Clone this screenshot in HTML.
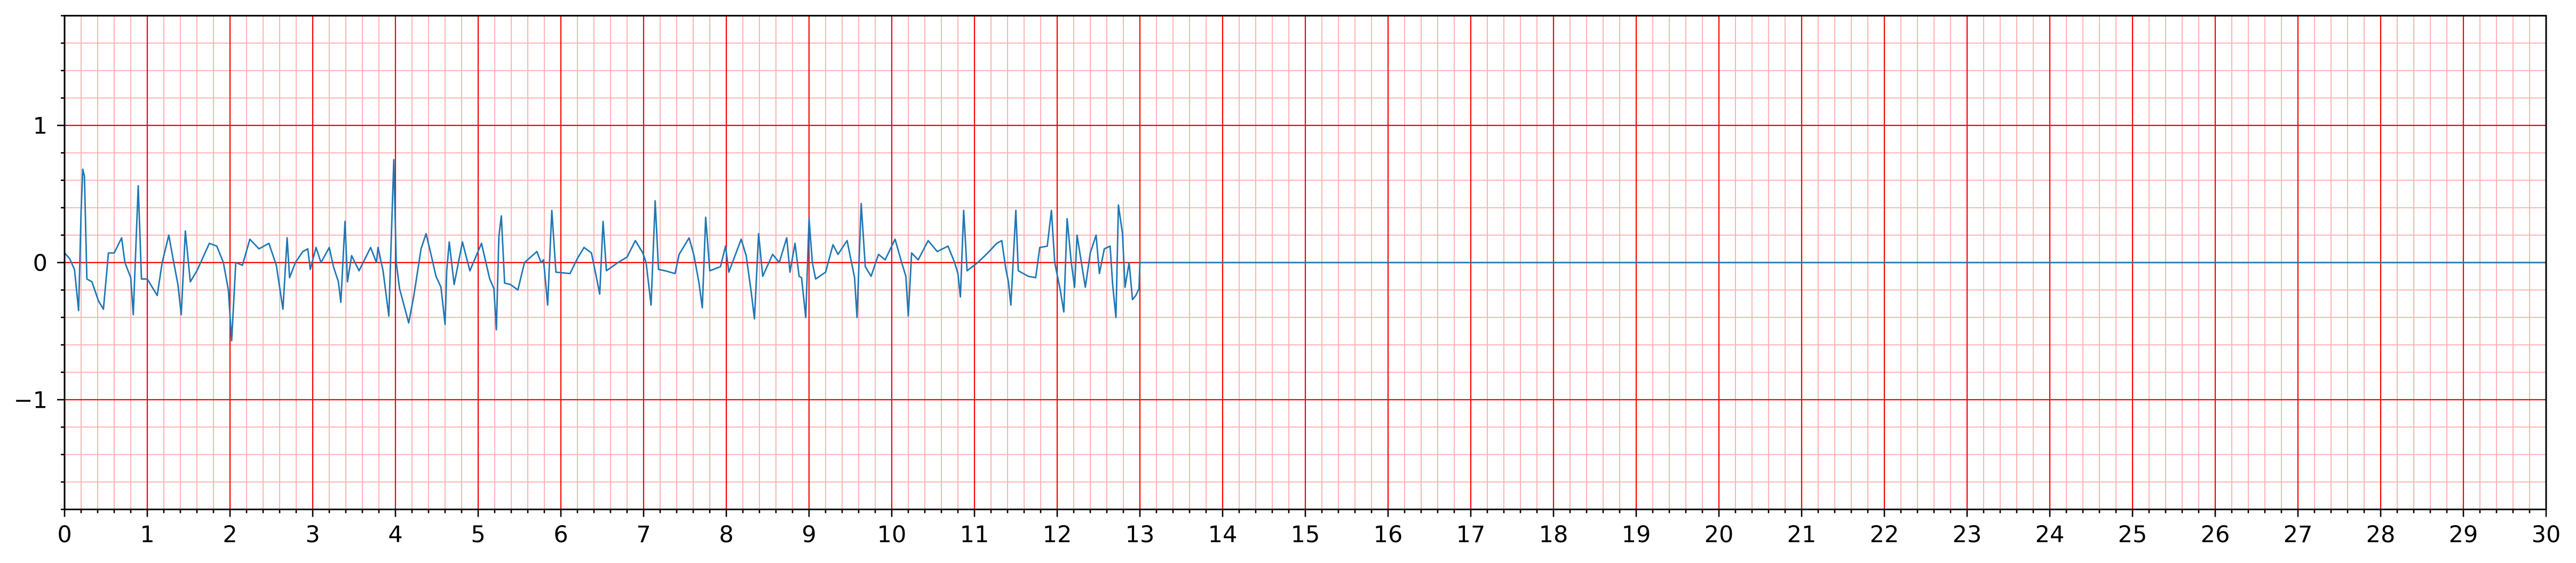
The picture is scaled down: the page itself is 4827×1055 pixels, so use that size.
<!DOCTYPE html>
<html><head><meta charset="utf-8"><style>
html,body{margin:0;padding:0;background:#fff}
svg{display:block}
text{font-family:"DejaVu Sans","Liberation Sans",sans-serif;font-size:43px;fill:#000}
</style></head><body>
<svg id="chart" width="4827" height="1055" viewBox="0 0 4827 1055" xmlns="http://www.w3.org/2000/svg">
<g id="grid"></g>
<g id="series"></g>
<g id="axes"></g>
</svg>
<script>
const times = [0.0,0.06,0.12,0.17,0.2,0.22,0.24,0.27,0.33,0.41,0.47,0.53,0.6,0.69,0.73,0.8,0.83,0.89,0.93,1.0,1.12,1.18,1.26,1.32,1.37,1.41,1.46,1.52,1.6,1.75,1.84,1.92,1.98,2.02,2.07,2.15,2.24,2.35,2.47,2.56,2.64,2.69,2.72,2.79,2.88,2.94,2.97,3.04,3.1,3.2,3.25,3.31,3.34,3.39,3.42,3.47,3.56,3.7,3.77,3.79,3.85,3.92,3.98,4.01,4.05,4.16,4.22,4.31,4.37,4.43,4.49,4.55,4.6,4.62,4.65,4.71,4.81,4.9,5.04,5.14,5.19,5.22,5.25,5.28,5.32,5.39,5.48,5.56,5.71,5.76,5.79,5.84,5.89,5.94,6.11,6.2,6.28,6.37,6.43,6.47,6.51,6.55,6.69,6.8,6.9,6.99,7.03,7.09,7.14,7.18,7.26,7.38,7.43,7.55,7.61,7.67,7.71,7.75,7.8,7.93,7.99,8.03,8.18,8.24,8.3,8.34,8.39,8.44,8.56,8.64,8.73,8.77,8.83,8.88,8.91,8.96,9.0,9.04,9.08,9.2,9.29,9.35,9.46,9.55,9.58,9.63,9.68,9.75,9.84,9.92,10.04,10.12,10.17,10.2,10.24,10.32,10.44,10.55,10.68,10.76,10.8,10.83,10.87,10.91,11.04,11.16,11.27,11.33,11.38,11.41,11.44,11.5,11.53,11.65,11.74,11.79,11.88,11.93,11.97,12.04,12.08,12.12,12.17,12.21,12.24,12.34,12.4,12.47,12.51,12.57,12.64,12.67,12.71,12.74,12.79,12.82,12.87,12.91,12.95,12.99,13.0,30.0];
const values = [0.07,0.03,-0.05,-0.35,0.38,0.68,0.63,-0.12,-0.14,-0.28,-0.34,0.07,0.07,0.18,0.0,-0.11,-0.38,0.56,-0.12,-0.12,-0.24,0.0,0.2,0.0,-0.16,-0.38,0.23,-0.14,-0.06,0.14,0.12,0.0,-0.2,-0.57,0.0,-0.02,0.17,0.1,0.14,-0.02,-0.34,0.18,-0.11,0.0,0.08,0.1,-0.05,0.11,0.0,0.11,-0.03,-0.14,-0.29,0.3,-0.14,0.05,-0.06,0.11,0.0,0.11,-0.06,-0.39,0.75,0.0,-0.19,-0.44,-0.25,0.1,0.21,0.06,-0.1,-0.18,-0.45,-0.06,0.15,-0.16,0.15,-0.06,0.14,-0.12,-0.19,-0.49,0.19,0.34,-0.15,-0.16,-0.2,0.0,0.08,0.0,0.02,-0.31,0.38,-0.07,-0.08,0.03,0.11,0.07,-0.11,-0.23,0.3,-0.06,0.0,0.04,0.16,0.07,0.0,-0.31,0.45,-0.05,-0.06,-0.08,0.06,0.18,0.05,-0.15,-0.33,0.33,-0.06,-0.03,0.12,-0.07,0.17,0.05,-0.21,-0.41,0.21,-0.1,0.06,0.0,0.18,-0.07,0.14,-0.1,-0.11,-0.4,0.32,0.0,-0.12,-0.07,0.13,0.06,0.16,-0.11,-0.4,0.43,-0.03,-0.1,0.06,0.02,0.17,0.0,-0.1,-0.39,0.07,0.02,0.16,0.08,0.12,0.0,-0.08,-0.25,0.38,-0.06,0.0,0.07,0.14,0.16,-0.05,-0.14,-0.31,0.38,-0.06,-0.1,-0.11,0.11,0.12,0.38,0.0,-0.21,-0.36,0.32,0.0,-0.18,0.2,-0.18,0.07,0.2,-0.08,0.1,0.12,-0.16,-0.4,0.42,0.21,-0.18,0.0,-0.27,-0.24,-0.19,0.0,0.0];
const xTickLabels = ["0","1","2","3","4","5","6","7","8","9","10","11","12","13","14","15","16","17","18","19","20","21","22","23","24","25","26","27","28","29","30"];
const yTickValues = [-1,0,1];
const yTickLabels = ["\u22121","0","1"];

const NS="http://www.w3.org/2000/svg";
const L=121,R=4771,T=29.4,B=954.6,XMIN=0,XMAX=30,YMIN=-1.8,YMAX=1.8;
function xs(t){return L+(t-XMIN)/(XMAX-XMIN)*(R-L);}
function ys(v){return B-(v-YMIN)/(YMAX-YMIN)*(B-T);}
function mk(tag,attrs,parent){const e=document.createElementNS(NS,tag);for(const k in attrs)e.setAttribute(k,attrs[k]);parent.appendChild(e);return e;}
const grid=document.getElementById('grid'),series=document.getElementById('series'),axes=document.getElementById('axes');

for(let i=0;i<=150;i++){const t=i*0.2;if(i%5===0)continue;
  const l=mk('line',{x1:xs(t),x2:xs(t),y1:T,y2:B,stroke:'#ffb3b3','stroke-width':2},grid);
  
  }
for(let i=-9;i<=9;i++){if(i%5===0)continue;const v=i*0.2;
  const l=mk('line',{x1:L,x2:R,y1:ys(v),y2:ys(v),stroke:'#ffb3b3','stroke-width':2},grid);
  
  }
xTickLabels.forEach((lab,i)=>{const x=xs(+lab);
  const l=mk('line',{x1:x,x2:x,y1:T,y2:B,stroke:'#ff0000','stroke-width':2.2},grid);
  
  });
yTickValues.forEach(v=>{const l=mk('line',{x1:L,x2:R,y1:ys(v),y2:ys(v),stroke:'#ff0000','stroke-width':2.2},grid);
  
  });

let d='';for(let i=0;i<times.length;i++){d+=(i?'L':'M')+xs(times[i]).toFixed(1)+','+ys(values[i]).toFixed(1);}
const p=mk('path',{d:d,fill:'none',stroke:'#1f77b4','stroke-width':2.8,'stroke-linejoin':'round'},series);



for(let i=0;i<=150;i++){const t=i*0.2,maj=i%5===0;
  const l=mk('line',{x1:xs(t),x2:xs(t),y1:B,y2:B+(maj?14:7),stroke:'#000','stroke-width':2.6},axes);
  
  }
for(let i=-9;i<=9;i++){const v=i*0.2,maj=i%5===0;
  const l=mk('line',{x1:L-(maj?14:7),x2:L,y1:ys(v),y2:ys(v),stroke:'#000','stroke-width':2.6},axes);
  
  }
xTickLabels.forEach(lab=>{const tx=mk('text',{x:xs(+lab),y:1016,'text-anchor':'middle'},axes);tx.textContent=lab;
  
  });
yTickValues.forEach((v,i)=>{const tx=mk('text',{x:89,y:ys(v)+15.5,'text-anchor':'end'},axes);tx.textContent=yTickLabels[i];
  
  });
const fr=mk('rect',{x:L,y:T,width:R-L,height:B-T,fill:'none',stroke:'#000','stroke-width':3},axes);


</script>
</body></html>
